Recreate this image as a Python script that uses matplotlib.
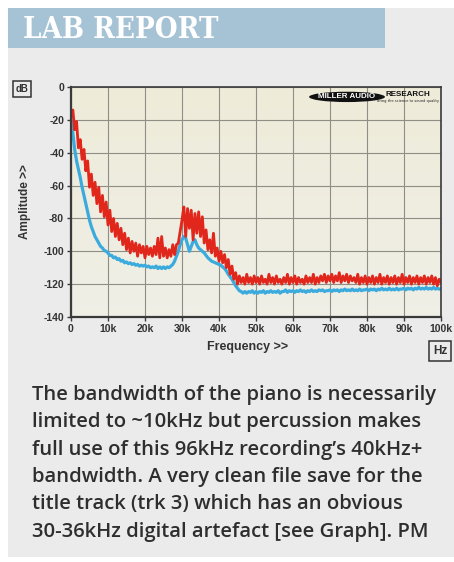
import numpy as np
import matplotlib
matplotlib.use("Agg")
import matplotlib.pyplot as plt
from matplotlib.patches import Rectangle, Ellipse

plt.rcParams["axes.unicode_minus"] = False

# spectrum bins, kHz (0.5 kHz steps)
FREQ = np.arange(0, 100.5, 0.5)

# red: peak spectrum (dB), blue: average spectrum (dB)
RED = [
    -18, -14, -26, -21, -37, -32, -44, -38, -51, -45,
    -61, -53, -66, -58, -71, -61, -76, -66, -79, -70,
    -84, -75, -88, -80, -91, -83, -93, -86, -96, -89,
    -99, -92, -101, -94, -100, -95, -103, -96, -101, -97,
    -104, -97, -102, -98, -103, -97, -102, -92, -104, -91,
    -103, -98, -104, -99, -103, -96, -102, -96, -95, -88,
    -81, -73, -91, -74, -86, -75, -93, -77, -89, -76,
    -91, -79, -95, -87, -99, -93, -101, -89, -103, -98,
    -106, -100, -107, -102, -110, -105, -114, -109, -117, -113,
    -120, -115, -119, -116, -120, -114, -119, -116, -120, -115,
    -119, -116, -120, -115, -119, -117, -120, -114, -119, -116,
    -120, -115, -119, -117, -120, -116, -119, -114, -120, -116,
    -119, -115, -120, -116, -119, -117, -120, -115, -119, -116,
    -119, -114, -120, -116, -119, -115, -118, -114, -119, -115,
    -118, -114, -119, -115, -118, -113, -119, -115, -118, -114,
    -119, -115, -118, -116, -119, -114, -120, -116, -119, -115,
    -120, -116, -119, -115, -120, -116, -119, -114, -120, -116,
    -119, -115, -120, -116, -119, -115, -120, -116, -119, -114,
    -120, -116, -119, -115, -120, -116, -119, -115, -120, -116,
    -119, -115, -120, -116, -119, -115, -120, -116, -121, -117,
    -119,
]
BLUE = [
    -20, -28, -38, -45, -50, -55, -61, -66, -71, -76,
    -81, -85, -88, -91, -93, -95, -97, -98, -99.5, -100,
    -101, -102.5, -102.5, -104, -103.5, -105, -104.5, -106, -105.5, -107,
    -106.5, -107.5, -107, -108, -107.5, -108.5, -108, -109, -108.5, -109,
    -108.5, -109.5, -109, -110, -109.5, -110, -109, -110.5, -109.5, -110.5,
    -109.5, -110.5, -109.5, -110, -109, -108, -106, -103, -100, -96,
    -93, -91, -92, -96, -100, -97, -94, -93, -96, -98,
    -99, -100, -101, -102.5, -104, -105, -106, -106.5, -107, -107.5,
    -108, -108.5, -109.5, -110.5, -112, -114, -115.5, -117, -119, -121,
    -122.5, -124, -124.5, -125.5, -124.5, -125.5, -124.5, -125, -124, -125.5,
    -124.5, -125.5, -124.5, -125, -124, -125.5, -124.5, -125, -124, -125,
    -124.5, -125, -124, -125.5, -124.5, -124.5, -123.5, -125, -124, -124.5,
    -124, -125, -124, -124.5, -123.5, -124.5, -124, -125, -124, -124.5,
    -123.5, -124.5, -124, -124.5, -123.5, -124, -123.5, -124.5, -124, -124,
    -123.5, -124.5, -123.5, -124, -123.5, -124.5, -123.5, -124, -123, -124,
    -123.5, -124, -123, -124, -123.5, -124, -123, -124, -123.5, -123.5,
    -123, -124, -123, -123.5, -123, -124, -123, -123.5, -122.5, -123.5,
    -123, -123.5, -122.5, -123.5, -123, -123.5, -122.5, -123.5, -123, -123,
    -122.5, -123.5, -122.5, -123, -122.5, -123.5, -122.5, -123, -122, -123,
    -122.5, -123, -122, -123, -122.5, -123, -122, -123, -122.5, -123,
    -123,
]

X_TICKS = [0, 10, 20, 30, 40, 50, 60, 70, 80, 90, 100]
X_LABELS = ["0", "10k", "20k", "30k", "40k", "50k", "60k", "70k", "80k", "90k", "100k"]
Y_TICKS = [0, -20, -40, -60, -80, -100, -120, -140]

CAPTION = [
    "The bandwidth of the piano is necessarily",
    "limited to ~10kHz but percussion makes",
    "full use of this 96kHz recording\u2019s 40kHz+",
    "bandwidth. A very clean file save for the",
    "title track (trk 3) which has an obvious",
    "30-36kHz digital artefact [see Graph]. PM",
]

W, H = 454, 562
fig = plt.figure(figsize=(W / 100, H / 100), dpi=100, facecolor="white")


def fx(px):
    return px / W


def fy(py):
    return 1 - py / H


# page panel + header band
fig.patches.append(Rectangle((fx(8), fy(557)), 1 - fx(8), (557 - 8) / H,
                             transform=fig.transFigure, facecolor="#EBEBEB",
                             edgecolor="none", zorder=-2))
fig.patches.append(Rectangle((fx(8), fy(48)), (385 - 8) / W, 40 / H,
                             transform=fig.transFigure, facecolor="#A6C3D6",
                             edgecolor="none", zorder=-1))
fig.text(fx(23), fy(29), "LAB REPORT", color="white", fontsize=21,
         fontweight="bold", family="DejaVu Serif", fontstretch="condensed",
         ha="left", va="center")

ax = fig.add_axes([fx(71), fy(317), (441 - 71) / W, (317 - 87) / H])
ax.set_zorder(2)
ax.set_xlim(0, 100)
ax.set_ylim(-140, 0)

# beige gradient background
grad = np.linspace(0, 1, 64).reshape(-1, 1)
top = np.array([0.935, 0.922, 0.850])
bot = np.array([0.940, 0.938, 0.905])
img = top + (bot - top) * grad[..., None]
ax.imshow(img, extent=(0, 100, -140, 0), aspect="auto", zorder=0)

ax.set_xticks(X_TICKS)
ax.set_xticklabels(X_LABELS)
ax.set_yticks(Y_TICKS)
ax.grid(True, color="#8E8E86", lw=0.8, zorder=1)

ax.plot(FREQ, BLUE, color="#3BABDD", lw=2.3, zorder=3)
ax.plot(FREQ, RED, color="#E1261C", lw=2.0, zorder=4)

for side, sp in ax.spines.items():
    sp.set_color("#3A3A3A")
    sp.set_linewidth(1.6 if side in ("left", "bottom") else 1.2)
    sp.set_zorder(5)

ax.tick_params(direction="out", length=3, width=1, color="#3A3A3A",
               labelsize=7.5, labelcolor="#333333", pad=2)
for lab in ax.get_xticklabels() + ax.get_yticklabels():
    lab.set_fontweight("bold")
    lab.set_family("Liberation Sans")

fig.text(fx(248), fy(347), "Frequency >>", fontsize=9, fontweight="bold",
         color="#333333", family="Liberation Sans", ha="center", va="center")
ax.set_ylabel("Amplitude >>", fontsize=8.5, fontweight="bold", color="#333333",
              family="Liberation Sans", labelpad=9)

# unit boxes
box = dict(boxstyle="square,pad=0.3", facecolor="#EBEBEB", edgecolor="#333333", lw=1.1)
fig.text(fx(22), fy(89), "dB", fontsize=7, fontweight="bold", color="#333333",
         family="Liberation Sans", ha="center", va="center", bbox=box, zorder=3)
fig.text(fx(440), fy(351), "Hz", fontsize=8.5, fontweight="bold", color="#333333",
         family="Liberation Sans", ha="center", va="center", bbox=box, zorder=3)

# logo
ax.add_patch(Ellipse((0.746, 0.957), 0.205, 0.045, transform=ax.transAxes,
                     facecolor="#111111", edgecolor="none", zorder=6))
ax.text(0.746, 0.957, "MILLER AUDIO", transform=ax.transAxes, fontsize=5.8,
        fontweight="bold", color="white", ha="center", va="center", zorder=7,
        family="Liberation Sans")
ax.text(0.85, 0.966, "RESEARCH", transform=ax.transAxes, fontsize=5.8,
        fontweight="bold", color="#111111", ha="left", va="center", zorder=7,
        family="Liberation Sans")
ax.text(0.995, 0.94, "bring the science to sound quality", transform=ax.transAxes,
        fontsize=2.6, color="#222222", ha="right", va="center", zorder=7)

# caption
for i, line in enumerate(CAPTION):
    fig.text(fx(32), fy(395 + i * 27.3), line, fontsize=14.6, fontweight="semibold",
             color="#2E2E2E", family="Open Sans", ha="left", va="center", zorder=3)

fig.savefig("out.png", dpi=100, facecolor="white")
